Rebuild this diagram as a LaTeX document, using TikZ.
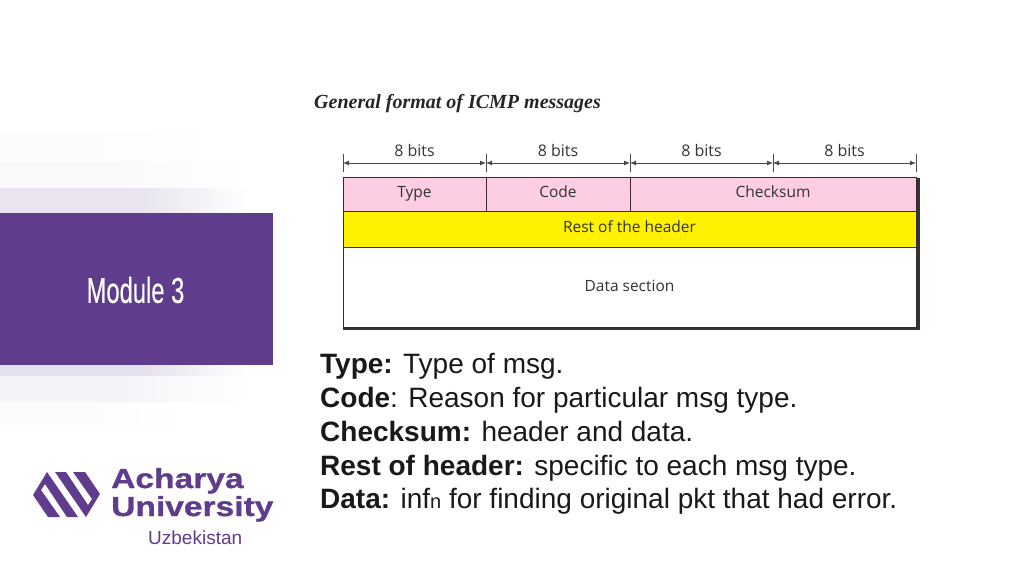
\documentclass[tikz,border=0pt]{standalone}
\usepackage{fontspec}
\setmainfont{Liberation Sans}
\newfontfamily\serifbi{Liberation Serif}
\newfontfamily\narrowfont[FakeStretch=0.66,FakeBold=0.3]{Liberation Sans}
\newfontfamily\logofont[FakeStretch=1.22,FakeBold=1]{Liberation Sans}
\newfontfamily\figfont{Open Sans}
\usepackage{tikz}
\usetikzlibrary{arrows.meta,positioning}
\definecolor{modpurple}{HTML}{5F3C8C}
\definecolor{rowpink}{HTML}{FCCDE3}
\definecolor{rowyellow}{HTML}{FFF200}
\definecolor{figline}{HTML}{3A2A30}
\tikzset{
  field/.style={draw=figline,line width=1pt,outer sep=0pt,minimum height=#1,inner sep=0pt,text=black!80,font=\figfont\fontsize{15.5}{18}\selectfont},
  field/.default=34pt,
  bitsize/.style={<->,>={Latex[length=6pt,width=5pt]},draw=black!70,line width=0.8pt},
  bitlabel/.style={inner sep=0pt,text=black!80,font=\figfont\fontsize{16}{18}\selectfont},
  fact/.style={anchor=base west,inner sep=0pt,text=black!90,font=\fontsize{28}{32}\selectfont},
  logotext/.style={anchor=base west,inner sep=0pt,text=modpurple,font=\logofont\bfseries\fontsize{27.5}{30}\selectfont},
  fadeband/.style={left color=#1,right color=white,draw=none},
}
\begin{document}
\begin{tikzpicture}[x=1pt,y=-1pt]
  \useasboundingbox (0,0) rectangle (1024,574);
  % left bands
  \fill[black!1] (0,132) rectangle (100,161);
  \shade[fadeband=black!1] (100,132) rectangle (225,161);
  \fill[black!2.5] (0,161) rectangle (100,188);
  \shade[fadeband=black!2.5] (100,161) rectangle (250,188);
  \fill[modpurple!14] (0,188) rectangle (140,213);
  \shade[fadeband=modpurple!14] (140,188) rectangle (250,213);
  \fill[modpurple!16] (0,365) rectangle (140,376);
  \shade[fadeband=modpurple!16] (140,365) rectangle (250,376);
  \fill[modpurple!6] (0,376) rectangle (120,402);
  \shade[fadeband=modpurple!6] (120,376) rectangle (250,402);
  \fill[black!1] (0,402) rectangle (100,430);
  \shade[fadeband=black!1] (100,402) rectangle (195,430);
  \node[fill=modpurple,outer sep=0pt,minimum width=273pt,minimum height=152pt,inner sep=0pt,anchor=north west] (module) at (0,213) {};
  \node[text=white,inner sep=0pt,font=\narrowfont\fontsize{36}{40}\selectfont] (modtext) at (135.5,290) {Module 3};

  % figure
  \node[inner sep=0pt,anchor=base west,font=\serifbi\bfseries\itshape\fontsize{20}{24}\selectfont,text=black!85] (title) at (314,108) {General format of ICMP messages};
  \fill[black!80] (343,327) rectangle (919.5,330);
  \fill[black!80] (916,178) rectangle (919.5,330);
  \node[field=34pt,fill=rowpink,minimum width=143pt,anchor=north west] (type) at (343,177) {\strut Type};
  \node[field=34pt,fill=rowpink,minimum width=144pt,right=0pt of type] (code) {\strut Code};
  \node[field=34pt,fill=rowpink,minimum width=286pt,right=0pt of code] (checksum) {\strut Checksum};
  \node[field=36pt,fill=rowyellow,minimum width=573pt,anchor=north west] (rest) at (type.south west) {\strut Rest of the header};
  \node[field=80pt,fill=white,minimum width=573pt,anchor=north west,text depth=3pt] (data) at (rest.south west) {\strut Data section};

  % bit widths
  \foreach \name/\xpos in {a/343,b/486,c/630,d/773,e/916}{
    \coordinate (top\name) at (\xpos,154);
    \coordinate (bot\name) at (\xpos,172);
    \coordinate (mid\name) at (\xpos,163);
    \draw[black!70,line width=0.8pt] (top\name) -- (bot\name);
  }
  \draw[bitsize] (mida) -- node[bitlabel,above=6pt] (bita) {8 bits} (midb);
  \draw[bitsize] (midb) -- node[bitlabel,above=6pt] (bitb) {8 bits} (midc);
  \draw[bitsize] (midc) -- node[bitlabel,above=6pt] (bitc) {8 bits} (midd);
  \draw[bitsize] (midd) -- node[bitlabel,above=6pt] (bitd) {8 bits} (mide);

  % explanations
  \node[fact] (f1) at (320,373) {\textbf{Type:} Type of msg.};
  \node[fact] (f2) at (320,407) {\textbf{Code}: Reason for particular msg type.};
  \node[fact] (f3) at (320,441) {\textbf{Checksum:} header and data.};
  \node[fact] (f4) at (320,475) {\textbf{Rest of header:} specific to each msg type.};
  \node[fact] (f5) at (320,508) {\textbf{Data:} inf{\fontsize{20}{22}\selectfont n} for finding original pkt that had error.};

  % logo
  \fill[modpurple] (33,495) -- (47,472) -- (78,517) -- (67,517) -- (45,484) -- (41,490) -- (60,517) -- (48,517) -- cycle;
  \fill[modpurple] (100,494) -- (86,517) -- (55,472) -- (66,472) -- (88,505) -- (92,499) -- (73,472) -- (85,472) -- cycle;
  \node[logotext] (acharya) at (111,488) {Acharya};
  \node[logotext] (university) at (111,516) {University};
  \node[anchor=base west,inner sep=0pt,text=modpurple,font=\fontsize{19}{22}\selectfont] (uzb) at (148,544) {Uzbekistan};
\end{tikzpicture}
\end{document}
